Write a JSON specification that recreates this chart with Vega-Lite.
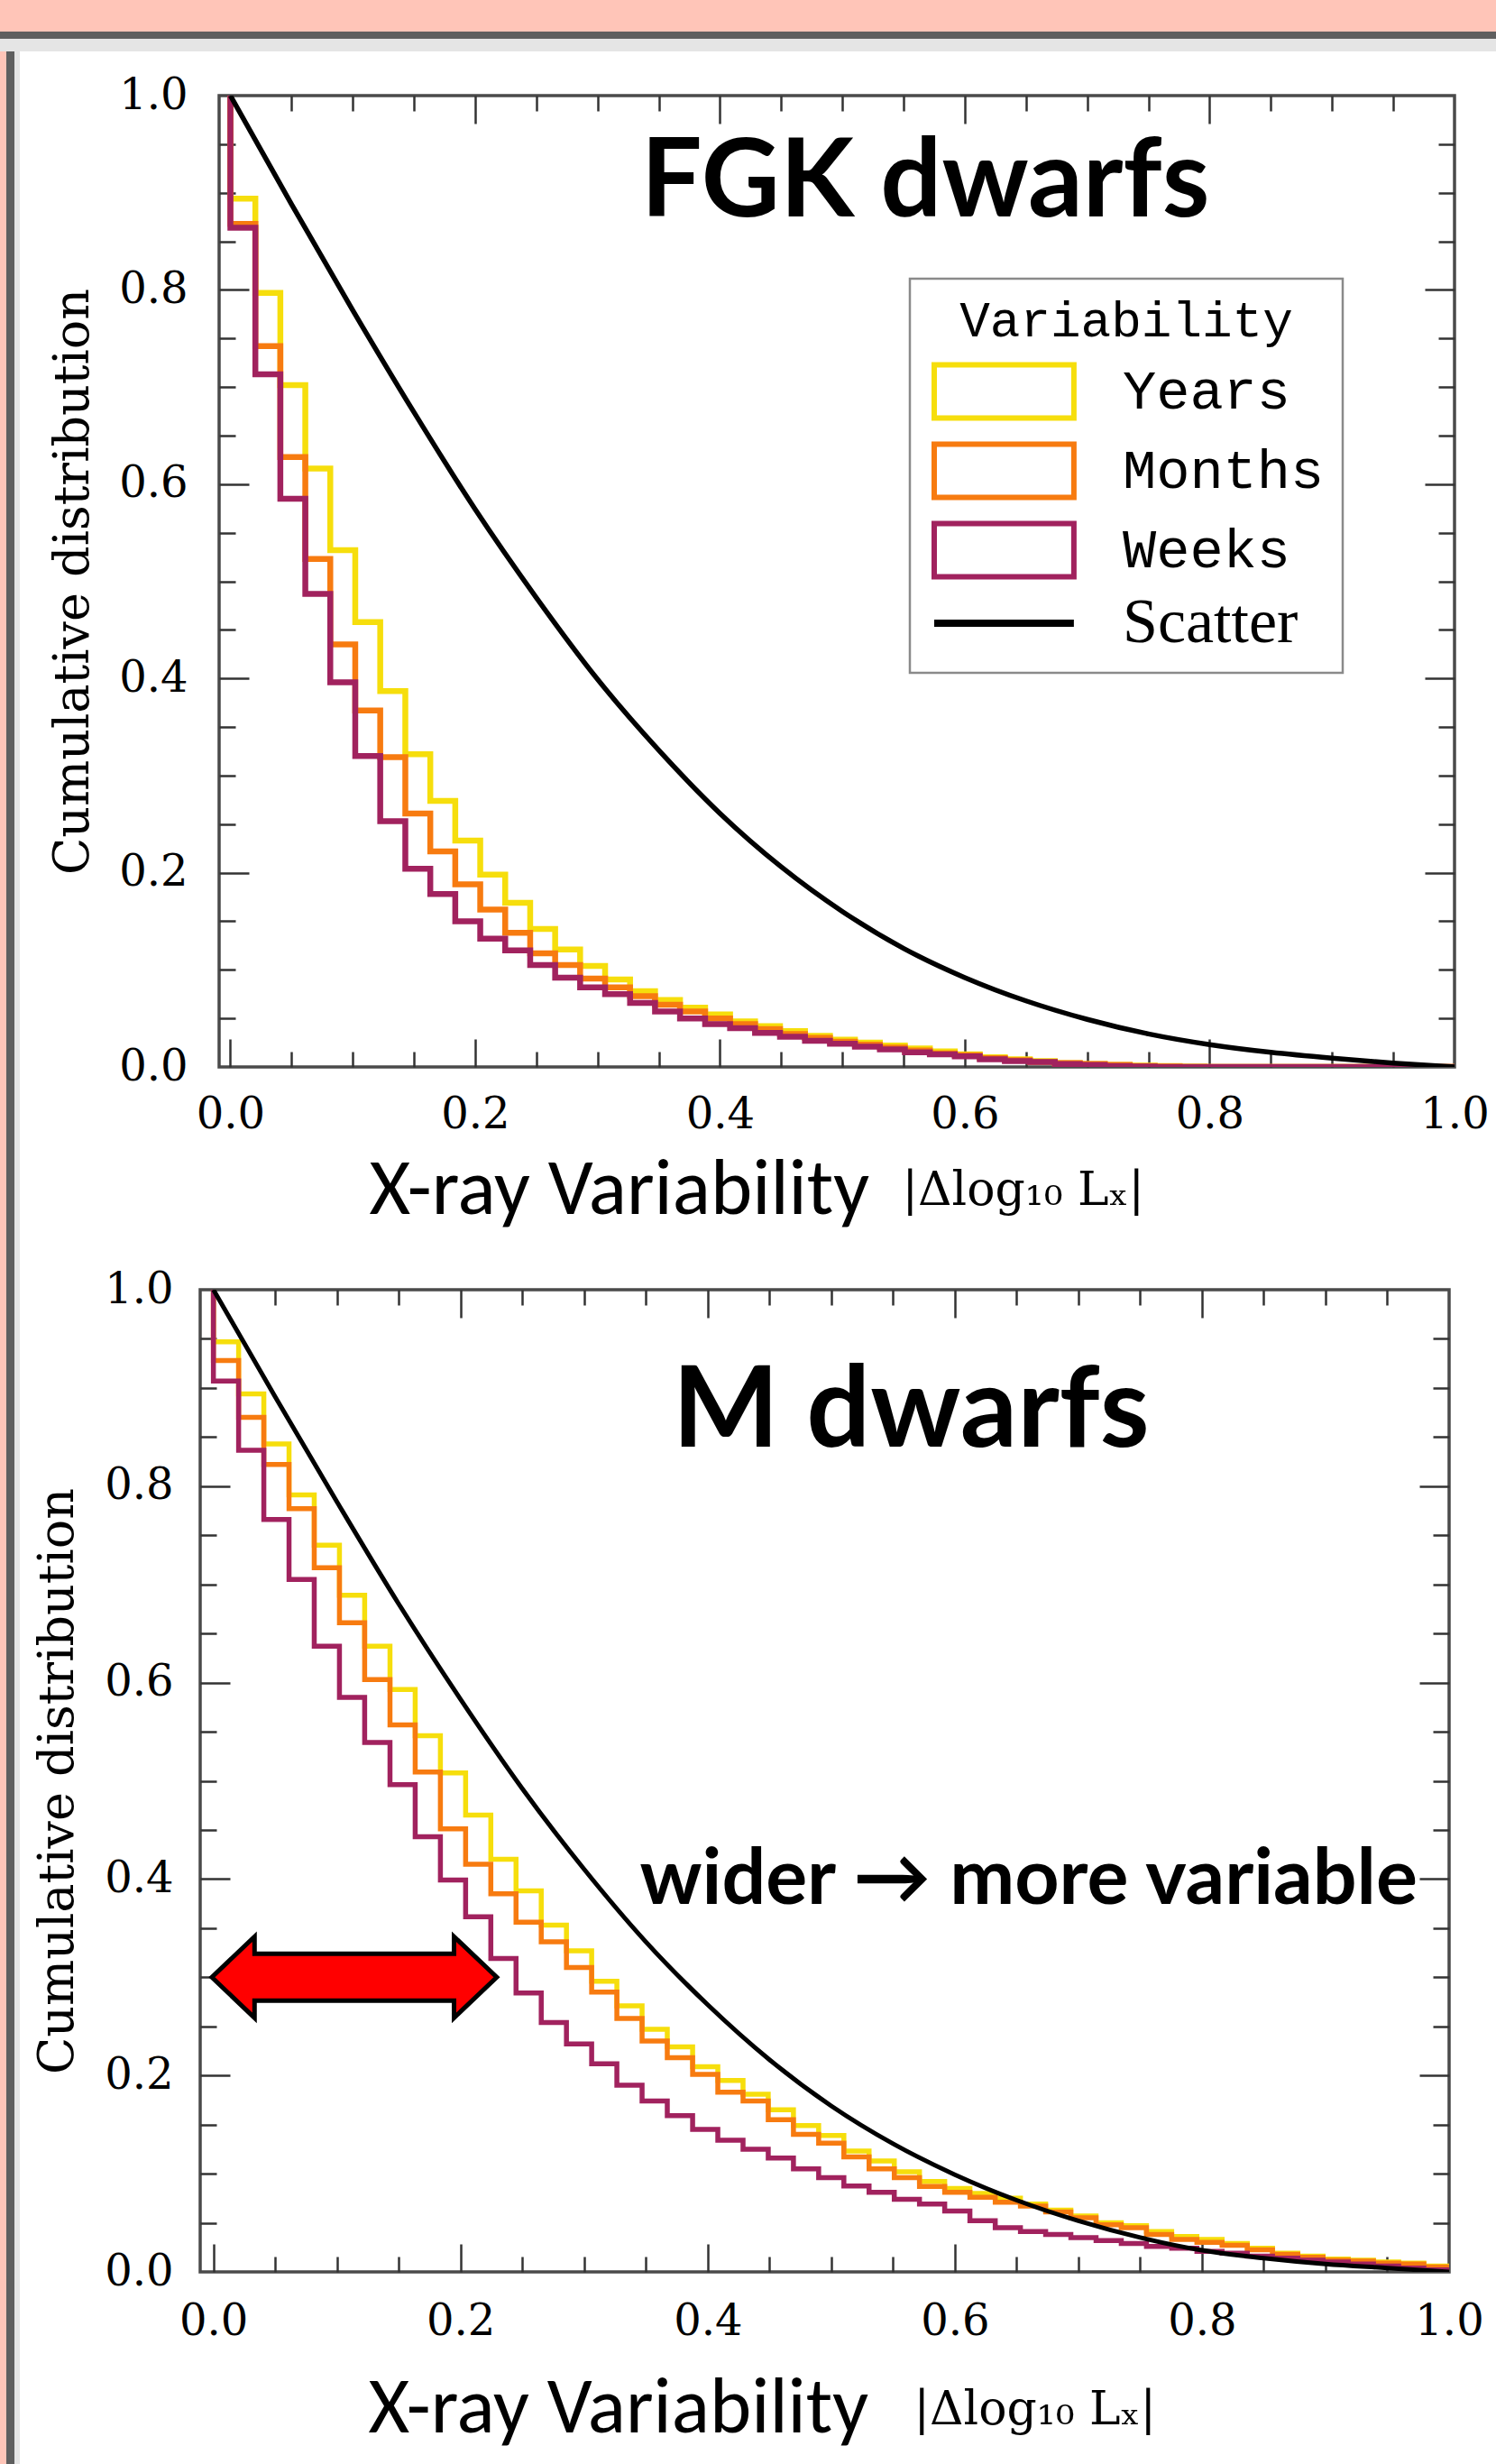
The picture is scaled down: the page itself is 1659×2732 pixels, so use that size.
{
  "$schema": "https://vega.github.io/schema/vega-lite/v6.json",
  "background": "white",
  "padding": 0,
  "autosize": {"type": "pad"},
  "config": {
    "view": {"stroke": null},
    "axis": {"grid": false, "domain": false, "labelFlush": false, "labelOverlap": false, "labelBound": false, "tickColor": "#333333", "tickWidth": 2.5, "titleLimit": 3000, "labelLimit": 500, "labelColor": "#000000", "titleColor": "#000000"}
  },
  "datasets": {
    "fgk": [
      {"i":0,"x":0,"Years":1,"Months":1,"Weeks":1},
      {"i":1,"x":0,"Years":0.894,"Months":0.868,"Weeks":0.864},
      {"i":2,"x":0.0204,"Years":0.797,"Months":0.742,"Weeks":0.713},
      {"i":3,"x":0.0408,"Years":0.702,"Months":0.628,"Weeks":0.585},
      {"i":4,"x":0.0612,"Years":0.616,"Months":0.523,"Weeks":0.487},
      {"i":5,"x":0.0816,"Years":0.532,"Months":0.435,"Weeks":0.396},
      {"i":6,"x":0.102,"Years":0.458,"Months":0.367,"Weeks":0.320},
      {"i":7,"x":0.1224,"Years":0.387,"Months":0.319,"Weeks":0.253},
      {"i":8,"x":0.1429,"Years":0.322,"Months":0.261,"Weeks":0.204},
      {"i":9,"x":0.1633,"Years":0.274,"Months":0.222,"Weeks":0.178},
      {"i":10,"x":0.1837,"Years":0.233,"Months":0.188,"Weeks":0.150},
      {"i":11,"x":0.2041,"Years":0.198,"Months":0.162,"Weeks":0.132},
      {"i":12,"x":0.2245,"Years":0.169,"Months":0.138,"Weeks":0.120},
      {"i":13,"x":0.2449,"Years":0.142,"Months":0.117,"Weeks":0.105},
      {"i":14,"x":0.2653,"Years":0.121,"Months":0.105,"Weeks":0.092},
      {"i":15,"x":0.2857,"Years":0.104,"Months":0.091,"Weeks":0.082},
      {"i":16,"x":0.3061,"Years":0.090,"Months":0.082,"Weeks":0.075},
      {"i":17,"x":0.3265,"Years":0.078,"Months":0.073,"Weeks":0.066},
      {"i":18,"x":0.3469,"Years":0.069,"Months":0.064,"Weeks":0.057},
      {"i":19,"x":0.3673,"Years":0.061,"Months":0.057,"Weeks":0.050},
      {"i":20,"x":0.3878,"Years":0.054,"Months":0.050,"Weeks":0.044},
      {"i":21,"x":0.4082,"Years":0.047,"Months":0.044,"Weeks":0.040},
      {"i":22,"x":0.4286,"Years":0.042,"Months":0.039,"Weeks":0.035},
      {"i":23,"x":0.449,"Years":0.037,"Months":0.034,"Weeks":0.031},
      {"i":24,"x":0.4694,"Years":0.032,"Months":0.030,"Weeks":0.027},
      {"i":25,"x":0.4898,"Years":0.028,"Months":0.026,"Weeks":0.024},
      {"i":26,"x":0.5102,"Years":0.025,"Months":0.023,"Weeks":0.021},
      {"i":27,"x":0.5306,"Years":0.022,"Months":0.020,"Weeks":0.018},
      {"i":28,"x":0.551,"Years":0.019,"Months":0.017,"Weeks":0.015},
      {"i":29,"x":0.5714,"Years":0.016,"Months":0.014,"Weeks":0.013},
      {"i":30,"x":0.5918,"Years":0.013,"Months":0.012,"Weeks":0.011},
      {"i":31,"x":0.6122,"Years":0.010,"Months":0.009,"Weeks":0.008},
      {"i":32,"x":0.6327,"Years":0.008,"Months":0.007,"Weeks":0.006},
      {"i":33,"x":0.6531,"Years":0.006,"Months":0.005,"Weeks":0.005},
      {"i":34,"x":0.6735,"Years":0.004,"Months":0.004,"Weeks":0.003},
      {"i":35,"x":0.6939,"Years":0.003,"Months":0.003,"Weeks":0.002},
      {"i":36,"x":0.7143,"Years":0.002,"Months":0.002,"Weeks":0.001},
      {"i":37,"x":0.7347,"Years":0.0015,"Months":0.001,"Weeks":0.0005},
      {"i":38,"x":0.7551,"Years":0.001,"Months":0.0005,"Weeks":0},
      {"i":39,"x":0.7755,"Years":0.0005,"Months":0,"Weeks":0},
      {"i":40,"x":0.7959,"Years":0,"Months":0,"Weeks":0},
      {"i":50,"x":1,"Years":0,"Months":0,"Weeks":0}
    ],
    "mdw": [
      {"i":0,"x":0,"Years":1,"Months":1,"Weeks":1},
      {"i":1,"x":0,"Years":0.947,"Months":0.928,"Weeks":0.907},
      {"i":2,"x":0.0204,"Years":0.894,"Months":0.870,"Weeks":0.8365},
      {"i":3,"x":0.0408,"Years":0.843,"Months":0.822,"Weeks":0.766},
      {"i":4,"x":0.0612,"Years":0.791,"Months":0.777,"Weeks":0.705},
      {"i":5,"x":0.0816,"Years":0.740,"Months":0.717,"Weeks":0.637},
      {"i":6,"x":0.102,"Years":0.689,"Months":0.661,"Weeks":0.585},
      {"i":7,"x":0.1224,"Years":0.637,"Months":0.603,"Weeks":0.539},
      {"i":8,"x":0.1429,"Years":0.593,"Months":0.557,"Weeks":0.496},
      {"i":9,"x":0.1633,"Years":0.546,"Months":0.509,"Weeks":0.443},
      {"i":10,"x":0.1837,"Years":0.508,"Months":0.451,"Weeks":0.399},
      {"i":11,"x":0.2041,"Years":0.465,"Months":0.415,"Weeks":0.3615},
      {"i":12,"x":0.2245,"Years":0.420,"Months":0.385,"Weeks":0.319},
      {"i":13,"x":0.2449,"Years":0.388,"Months":0.356,"Weeks":0.284},
      {"i":14,"x":0.2653,"Years":0.353,"Months":0.336,"Weeks":0.254},
      {"i":15,"x":0.2857,"Years":0.327,"Months":0.310,"Weeks":0.232},
      {"i":16,"x":0.3061,"Years":0.296,"Months":0.285,"Weeks":0.212},
      {"i":17,"x":0.3265,"Years":0.271,"Months":0.258,"Weeks":0.190},
      {"i":18,"x":0.3469,"Years":0.247,"Months":0.235,"Weeks":0.174},
      {"i":19,"x":0.3673,"Years":0.229,"Months":0.218,"Weeks":0.159},
      {"i":20,"x":0.3878,"Years":0.209,"Months":0.201,"Weeks":0.145},
      {"i":21,"x":0.4082,"Years":0.195,"Months":0.183,"Weeks":0.134},
      {"i":22,"x":0.4286,"Years":0.181,"Months":0.174,"Weeks":0.125},
      {"i":23,"x":0.449,"Years":0.165,"Months":0.155,"Weeks":0.116},
      {"i":24,"x":0.4694,"Years":0.149,"Months":0.140,"Weeks":0.105},
      {"i":25,"x":0.4898,"Years":0.139,"Months":0.131,"Weeks":0.096},
      {"i":26,"x":0.5102,"Years":0.123,"Months":0.117,"Weeks":0.0875},
      {"i":27,"x":0.5306,"Years":0.113,"Months":0.105,"Weeks":0.081},
      {"i":28,"x":0.551,"Years":0.102,"Months":0.096,"Weeks":0.074},
      {"i":29,"x":0.5714,"Years":0.092,"Months":0.087,"Weeks":0.069},
      {"i":30,"x":0.5918,"Years":0.085,"Months":0.081,"Weeks":0.062},
      {"i":31,"x":0.6122,"Years":0.080,"Months":0.076,"Weeks":0.052},
      {"i":32,"x":0.6327,"Years":0.075,"Months":0.071,"Weeks":0.045},
      {"i":33,"x":0.6531,"Years":0.069,"Months":0.067,"Weeks":0.041},
      {"i":34,"x":0.6735,"Years":0.063,"Months":0.061,"Weeks":0.038},
      {"i":35,"x":0.6939,"Years":0.057,"Months":0.055,"Weeks":0.035},
      {"i":36,"x":0.7143,"Years":0.050,"Months":0.048,"Weeks":0.032},
      {"i":37,"x":0.7347,"Years":0.047,"Months":0.045,"Weeks":0.029},
      {"i":38,"x":0.7551,"Years":0.041,"Months":0.038,"Weeks":0.026},
      {"i":39,"x":0.7755,"Years":0.036,"Months":0.033,"Weeks":0.024},
      {"i":40,"x":0.7959,"Years":0.033,"Months":0.030,"Weeks":0.021},
      {"i":41,"x":0.8163,"Years":0.029,"Months":0.027,"Weeks":0.019},
      {"i":42,"x":0.8367,"Years":0.024,"Months":0.0225,"Weeks":0.016},
      {"i":43,"x":0.8571,"Years":0.019,"Months":0.018,"Weeks":0.014},
      {"i":44,"x":0.8776,"Years":0.016,"Months":0.015,"Weeks":0.012},
      {"i":45,"x":0.898,"Years":0.013,"Months":0.012,"Weeks":0.010},
      {"i":46,"x":0.9184,"Years":0.012,"Months":0.011,"Weeks":0.008},
      {"i":47,"x":0.9388,"Years":0.010,"Months":0.009,"Weeks":0.006},
      {"i":48,"x":0.9592,"Years":0.009,"Months":0.008,"Weeks":0.004},
      {"i":49,"x":0.9796,"Years":0.006,"Months":0.005,"Weeks":0.002},
      {"i":50,"x":1,"Years":0.006,"Months":0.005,"Weeks":0.002}
    ],
    "fgkScatter": [
      {"series":"Scatter","x":0,"v":1},{"series":"Scatter","x":0.05,"v":0.888},{"series":"Scatter","x":0.1,"v":0.779},
      {"series":"Scatter","x":0.15,"v":0.674},{"series":"Scatter","x":0.2,"v":0.574},{"series":"Scatter","x":0.25,"v":0.483},
      {"series":"Scatter","x":0.3,"v":0.399},{"series":"Scatter","x":0.35,"v":0.326},{"series":"Scatter","x":0.4,"v":0.261},
      {"series":"Scatter","x":0.45,"v":0.206},{"series":"Scatter","x":0.5,"v":0.160},{"series":"Scatter","x":0.55,"v":0.122},
      {"series":"Scatter","x":0.6,"v":0.092},{"series":"Scatter","x":0.65,"v":0.068},{"series":"Scatter","x":0.7,"v":0.049},
      {"series":"Scatter","x":0.75,"v":0.034},{"series":"Scatter","x":0.8,"v":0.023},{"series":"Scatter","x":0.85,"v":0.015},
      {"series":"Scatter","x":0.9,"v":0.009},{"series":"Scatter","x":0.95,"v":0.004},{"series":"Scatter","x":1,"v":0}
    ],
    "mScatter": [
      {"series":"Scatter","x":0,"v":1},{"series":"Scatter","x":0.05,"v":0.891},{"series":"Scatter","x":0.1,"v":0.784},
      {"series":"Scatter","x":0.15,"v":0.680},{"series":"Scatter","x":0.2,"v":0.583},{"series":"Scatter","x":0.25,"v":0.492},
      {"series":"Scatter","x":0.3,"v":0.410},{"series":"Scatter","x":0.35,"v":0.336},{"series":"Scatter","x":0.4,"v":0.272},
      {"series":"Scatter","x":0.45,"v":0.216},{"series":"Scatter","x":0.5,"v":0.169},{"series":"Scatter","x":0.55,"v":0.1305},
      {"series":"Scatter","x":0.6,"v":0.099},{"series":"Scatter","x":0.65,"v":0.073},{"series":"Scatter","x":0.7,"v":0.052},
      {"series":"Scatter","x":0.75,"v":0.035},{"series":"Scatter","x":0.8,"v":0.022},{"series":"Scatter","x":0.85,"v":0.014},
      {"series":"Scatter","x":0.9,"v":0.008},{"series":"Scatter","x":0.95,"v":0.004},{"series":"Scatter","x":1,"v":0}
    ]
  },
  "spacing": 0,
  "vconcat": [
    {"width": 1659, "height": 35, "data": {"values": [{}]}, "mark": {"type": "point", "size": 0, "strokeWidth": 0, "opacity": 0}, "view": {"fill": "#FFC5B8", "stroke": null}},
    {"width": 1659, "height": 8, "data": {"values": [{}]}, "mark": {"type": "point", "size": 0, "strokeWidth": 0, "opacity": 0}, "view": {"fill": "#5F5F5F", "stroke": null}},
    {"width": 1659, "height": 14, "data": {"values": [{}]}, "mark": {"type": "point", "size": 0, "strokeWidth": 0, "opacity": 0}, "view": {"fill": "#E5E5E5", "stroke": null}},
    {
      "spacing": 0,
      "hconcat": [
        {"width": 7, "height": 2675, "data": {"values": [{}]}, "mark": {"type": "point", "size": 0, "strokeWidth": 0, "opacity": 0}, "view": {"fill": "#FFC5B8", "stroke": null}},
        {"width": 9, "height": 2675, "data": {"values": [{}]}, "mark": {"type": "point", "size": 0, "strokeWidth": 0, "opacity": 0}, "view": {"fill": "#5F5F5F", "stroke": null}},
        {"width": 6, "height": 2675, "data": {"values": [{}]}, "mark": {"type": "point", "size": 0, "strokeWidth": 0, "opacity": 0}, "view": {"fill": "#E5E5E5", "stroke": null}},
        {"width": 7, "height": 10, "data": {"values": [{}]}, "mark": {"type": "point", "size": 0, "strokeWidth": 0, "opacity": 0}, "view": {"stroke": null}},
        {
          "spacing": 3,
          "columns": 1,
          "align": "none",
          "resolve": {"scale": {"x": "independent", "y": "independent", "color": "independent"}},
          "concat": [
            {"width": 1, "height": 1, "data": {"values": [{}]}, "mark": {"type": "point", "size": 0, "strokeWidth": 0, "opacity": 0}, "view": {"stroke": null}},
            {
              "spacing": 0,
              "resolve": {"scale": {"x": "independent", "y": "independent", "color": "independent"}},
              "hconcat": [
                {"width": 1, "height": 1, "data": {"values": [{}]}, "mark": {"type": "point", "size": 0, "strokeWidth": 0, "opacity": 0}, "view": {"stroke": null}},
                {
                  "width": 1370, "height": 1077,
                  "view": {"stroke": "#4a4a4a", "strokeWidth": 3.5, "fill": "white"},
                  "resolve": {"axis": {"x": "independent", "y": "independent"}},
                  "layer": [
                    {
                      "data": {"name": "fgk"},
                      "transform": [{"fold": ["Years"], "as": ["series", "v"]}],
                      "mark": {"type": "line", "interpolate": "step-after", "strokeWidth": 6.5, "clip": true},
                      "encoding": {
                        "x": {"field": "x", "type": "quantitative", "scale": {"domain": [-0.0092, 1], "nice": false, "zero": false},
                          "axis": {"orient": "bottom", "values": [0, 0.2, 0.4, 0.6, 0.8, 1], "format": ".1f", "ticks": false, "tickSize": 0, "labelFont": "DejaVu Serif", "labelFontSize": 48, "labelPadding": 29, "title": "X-ray Variability", "titleFont": "Carlito, Lato", "titleFontSize": 88, "titleFontWeight": "normal", "titleAlign": "left", "titleBaseline": "alphabetic", "titleX": 166, "titleY": 162}},
                        "y": {"field": "v", "type": "quantitative", "scale": {"domain": [0, 1], "nice": false, "zero": false},
                          "axis": {"orient": "left", "values": [0, 0.2, 0.4, 0.6, 0.8, 1], "format": ".1f", "ticks": false, "tickSize": 0, "labelFont": "DejaVu Serif", "labelFontSize": 48, "labelPadding": 35, "title": "Cumulative distribution", "titleFont": "DejaVu Serif", "titleFontSize": 54, "titleFontWeight": "normal", "titlePadding": 23}},
                        "color": {"field": "series", "type": "nominal",
                          "scale": {"domain": ["Years", "Months", "Weeks", "Scatter"], "range": ["#F6DE0C", "#F77B10", "#A1225E", "#000000"]},
                          "legend": {
                            "orient": "none", "legendX": 766, "legendY": 203,
                            "title": "Variability", "titleFont": "Liberation Mono", "titleFontSize": 56, "titleFontWeight": "normal", "titleColor": "#000000", "titleAnchor": "middle", "titleAlign": "center", "titlePadding": 18, "titleLimit": 800,
                            "labelFont": "Liberation Mono", "labelFontSize": 62, "labelColor": "#000000", "labelOffset": 154, "labelLimit": 600,
                            "symbolType": "M-0.75,-0.92H4.09V0.92H-0.75Z", "symbolSize": 4096, "symbolStrokeWidth": 6,
                            "rowPadding": 4, "padding": 20, "strokeColor": "#8a8a8a", "fillColor": "#ffffff",
                            "encode": {
                              "symbols": {"update": {
                                "shape": {"signal": "datum.value === 'Scatter' ? 'M-0.75,0H4.09' : 'M-0.75,-0.92H4.09V0.92H-0.75Z'"},
                                "fill": {"value": "transparent"},
                                "strokeWidth": {"signal": "datum.value === 'Scatter' ? 8 : 6"}}},
                              "labels": {"update": {
                                "font": {"signal": "datum.value === 'Scatter' ? 'Liberation Serif' : 'Liberation Mono'"},
                                "fontSize": {"signal": "datum.value === 'Scatter' ? 70 : 62"}}},
                              "legend": {"update": {"strokeWidth": {"value": 2.5}}}
                            }
                          }},
                        "order": {"field": "i", "type": "quantitative"}
                      }
                    },
                    {
                      "data": {"name": "fgk"},
                      "transform": [{"fold": ["Months"], "as": ["series", "v"]}],
                      "mark": {"type": "line", "interpolate": "step-after", "strokeWidth": 6.5, "clip": true},
                      "encoding": {
                        "x": {"field": "x", "type": "quantitative", "scale": {"domain": [-0.0092, 1], "nice": false, "zero": false},
                          "axis": {"orient": "bottom", "values": [0, 0.2, 0.4, 0.6, 0.8], "labels": false, "tickSize": 31, "offset": -31, "title": ".", "titleColor": "#ffffff", "titleFontSize": 12, "titleAlign": "left", "titleBaseline": "bottom", "titleX": 0, "titleY": 231}},
                        "y": {"field": "v", "type": "quantitative", "scale": {"domain": [0, 1], "nice": false, "zero": false},
                          "axis": {"orient": "left", "values": [0.2, 0.4, 0.6, 0.8], "labels": false, "tickSize": 33, "offset": -33, "title": null}},
                        "color": {"field": "series", "type": "nominal", "scale": {"domain": ["Years", "Months", "Weeks", "Scatter"], "range": ["#F6DE0C", "#F77B10", "#A1225E", "#000000"]}},
                        "order": {"field": "i", "type": "quantitative"}
                      }
                    },
                    {
                      "data": {"name": "fgk"},
                      "transform": [{"fold": ["Weeks"], "as": ["series", "v"]}],
                      "mark": {"type": "line", "interpolate": "step-after", "strokeWidth": 6.5, "clip": true},
                      "encoding": {
                        "x": {"field": "x", "type": "quantitative", "scale": {"domain": [-0.0092, 1], "nice": false, "zero": false},
                          "axis": {"orient": "bottom", "values": [0.05, 0.1, 0.15, 0.25, 0.3, 0.35, 0.45, 0.5, 0.55, 0.65, 0.7, 0.75, 0.85, 0.9, 0.95], "labels": false, "tickSize": 17, "offset": -17, "title": "|Δlog₁₀ Lₓ|", "titleFont": "DejaVu Serif", "titleFontSize": 52, "titleFontWeight": "normal", "titleAlign": "left", "titleBaseline": "alphabetic", "titleX": 757, "titleY": 169}},
                        "y": {"field": "v", "type": "quantitative", "scale": {"domain": [0, 1], "nice": false, "zero": false},
                          "axis": {"orient": "left", "values": [0.05, 0.1, 0.15, 0.25, 0.3, 0.35, 0.45, 0.5, 0.55, 0.65, 0.7, 0.75, 0.85, 0.9, 0.95], "labels": false, "tickSize": 18, "offset": -18, "title": ".", "titleColor": "#ffffff", "titleFontSize": 12, "titleAngle": 0, "titleAlign": "left", "titleBaseline": "middle", "titleX": -229, "titleY": 500}},
                        "color": {"field": "series", "type": "nominal", "scale": {"domain": ["Years", "Months", "Weeks", "Scatter"], "range": ["#F6DE0C", "#F77B10", "#A1225E", "#000000"]}},
                        "order": {"field": "i", "type": "quantitative"}
                      }
                    },
                    {
                      "data": {"name": "fgkScatter"},
                      "mark": {"type": "line", "interpolate": "monotone", "strokeWidth": 5.5, "clip": true},
                      "encoding": {
                        "x": {"field": "x", "type": "quantitative", "scale": {"domain": [-0.0092, 1], "nice": false, "zero": false},
                          "axis": {"orient": "top", "values": [0.2, 0.4, 0.6, 0.8], "labels": false, "tickSize": 31, "offset": -31, "title": ".", "titleColor": "#ffffff", "titleFontSize": 12, "titleAlign": "left", "titleBaseline": "top", "titleX": 0, "titleY": -73}},
                        "y": {"field": "v", "type": "quantitative", "scale": {"domain": [0, 1], "nice": false, "zero": false},
                          "axis": {"orient": "right", "values": [0.2, 0.4, 0.6, 0.8], "labels": false, "tickSize": 33, "offset": -33, "title": null}},
                        "color": {"field": "series", "type": "nominal", "scale": {"domain": ["Years", "Months", "Weeks", "Scatter"], "range": ["#F6DE0C", "#F77B10", "#A1225E", "#000000"]}}
                      }
                    },
                    {
                      "data": {"values": [{"x": 0.5676, "y": 0.876, "label": "FGK dwarfs"}]},
                      "mark": {"type": "text", "font": "Lato", "fontWeight": "bold", "fontSize": 120, "align": "center", "baseline": "alphabetic", "color": "#000000"},
                      "encoding": {
                        "x": {"field": "x", "type": "quantitative", "scale": {"domain": [-0.0092, 1], "nice": false, "zero": false},
                          "axis": {"orient": "top", "values": [0.05, 0.1, 0.15, 0.25, 0.3, 0.35, 0.45, 0.5, 0.55, 0.65, 0.7, 0.75, 0.85, 0.9, 0.95], "labels": false, "tickSize": 17, "offset": -17, "title": null}},
                        "y": {"field": "y", "type": "quantitative", "scale": {"domain": [0, 1], "nice": false, "zero": false},
                          "axis": {"orient": "right", "values": [0.05, 0.1, 0.15, 0.25, 0.3, 0.35, 0.45, 0.5, 0.55, 0.65, 0.7, 0.75, 0.85, 0.9, 0.95], "labels": false, "tickSize": 18, "offset": -18, "title": null}},
                        "text": {"field": "label"}
                      }
                    }
                  ]
                }
              ]
            },
            {
              "spacing": 0,
              "resolve": {"scale": {"x": "independent", "y": "independent", "color": "independent"}},
              "hconcat": [
                {"width": 1, "height": 1, "data": {"values": [{}]}, "mark": {"type": "point", "size": 0, "strokeWidth": 0, "opacity": 0}, "view": {"stroke": null}},
                {
                  "width": 1385, "height": 1089,
                  "view": {"stroke": "#4a4a4a", "strokeWidth": 3.5, "fill": "white"},
                  "resolve": {"axis": {"x": "independent", "y": "independent"}},
                  "layer": [
                    {
                      "data": {"name": "mdw"},
                      "transform": [{"fold": ["Years"], "as": ["series", "v"]}],
                      "mark": {"type": "line", "interpolate": "step-after", "strokeWidth": 5.5, "clip": true},
                      "encoding": {
                        "x": {"field": "x", "type": "quantitative", "scale": {"domain": [-0.0107, 1], "nice": false, "zero": false},
                          "axis": {"orient": "bottom", "values": [0, 0.2, 0.4, 0.6, 0.8, 1], "format": ".1f", "ticks": false, "tickSize": 0, "labelFont": "DejaVu Serif", "labelFontSize": 48, "labelPadding": 31, "title": "X-ray Variability", "titleFont": "Carlito, Lato", "titleFontSize": 88, "titleFontWeight": "normal", "titleAlign": "left", "titleBaseline": "alphabetic", "titleX": 186, "titleY": 177}},
                        "y": {"field": "v", "type": "quantitative", "scale": {"domain": [0, 1], "nice": false, "zero": false},
                          "axis": {"orient": "left", "values": [0, 0.2, 0.4, 0.6, 0.8, 1], "format": ".1f", "ticks": false, "tickSize": 0, "labelFont": "DejaVu Serif", "labelFontSize": 48, "labelPadding": 30, "title": "Cumulative distribution", "titleFont": "DejaVu Serif", "titleFontSize": 54, "titleFontWeight": "normal", "titlePadding": 24}},
                        "color": {"field": "series", "type": "nominal", "scale": {"domain": ["Years", "Months", "Weeks", "Scatter"], "range": ["#F6DE0C", "#F77B10", "#A1225E", "#000000"]}, "legend": null},
                        "order": {"field": "i", "type": "quantitative"}
                      }
                    },
                    {
                      "data": {"name": "mdw"},
                      "transform": [{"fold": ["Months"], "as": ["series", "v"]}],
                      "mark": {"type": "line", "interpolate": "step-after", "strokeWidth": 5.5, "clip": true},
                      "encoding": {
                        "x": {"field": "x", "type": "quantitative", "scale": {"domain": [-0.0107, 1], "nice": false, "zero": false},
                          "axis": {"orient": "bottom", "values": [0, 0.2, 0.4, 0.6, 0.8], "labels": false, "tickSize": 31, "offset": -31, "title": null}},
                        "y": {"field": "v", "type": "quantitative", "scale": {"domain": [0, 1], "nice": false, "zero": false},
                          "axis": {"orient": "left", "values": [0.2, 0.4, 0.6, 0.8], "labels": false, "tickSize": 33, "offset": -33, "title": null}},
                        "color": {"field": "series", "type": "nominal", "scale": {"domain": ["Years", "Months", "Weeks", "Scatter"], "range": ["#F6DE0C", "#F77B10", "#A1225E", "#000000"]}, "legend": null},
                        "order": {"field": "i", "type": "quantitative"}
                      }
                    },
                    {
                      "data": {"name": "mdw"},
                      "transform": [{"fold": ["Weeks"], "as": ["series", "v"]}],
                      "mark": {"type": "line", "interpolate": "step-after", "strokeWidth": 5.5, "clip": true},
                      "encoding": {
                        "x": {"field": "x", "type": "quantitative", "scale": {"domain": [-0.0107, 1], "nice": false, "zero": false},
                          "axis": {"orient": "bottom", "values": [0.05, 0.1, 0.15, 0.25, 0.3, 0.35, 0.45, 0.5, 0.55, 0.65, 0.7, 0.75, 0.85, 0.9, 0.95], "labels": false, "tickSize": 17, "offset": -17, "title": "|Δlog₁₀ Lₓ|", "titleFont": "DejaVu Serif", "titleFontSize": 52, "titleFontWeight": "normal", "titleAlign": "left", "titleBaseline": "alphabetic", "titleX": 791, "titleY": 185}},
                        "y": {"field": "v", "type": "quantitative", "scale": {"domain": [0, 1], "nice": false, "zero": false},
                          "axis": {"orient": "left", "values": [0.05, 0.1, 0.15, 0.25, 0.3, 0.35, 0.45, 0.5, 0.55, 0.65, 0.7, 0.75, 0.85, 0.9, 0.95], "labels": false, "tickSize": 18, "offset": -18, "title": ".", "titleColor": "#ffffff", "titleFontSize": 12, "titleAngle": 0, "titleAlign": "left", "titleBaseline": "middle", "titleX": -208, "titleY": 500}},
                        "color": {"field": "series", "type": "nominal", "scale": {"domain": ["Years", "Months", "Weeks", "Scatter"], "range": ["#F6DE0C", "#F77B10", "#A1225E", "#000000"]}, "legend": null},
                        "order": {"field": "i", "type": "quantitative"}
                      }
                    },
                    {
                      "data": {"name": "mScatter"},
                      "mark": {"type": "line", "interpolate": "monotone", "strokeWidth": 5, "clip": true},
                      "encoding": {
                        "x": {"field": "x", "type": "quantitative", "scale": {"domain": [-0.0107, 1], "nice": false, "zero": false},
                          "axis": {"orient": "top", "values": [0.2, 0.4, 0.6, 0.8], "labels": false, "tickSize": 31, "offset": -31, "title": ".", "titleColor": "#ffffff", "titleFontSize": 12, "titleAlign": "left", "titleBaseline": "top", "titleX": 0, "titleY": -71}},
                        "y": {"field": "v", "type": "quantitative", "scale": {"domain": [0, 1], "nice": false, "zero": false},
                          "axis": {"orient": "right", "values": [0.2, 0.4, 0.6, 0.8], "labels": false, "tickSize": 33, "offset": -33, "title": null}},
                        "color": {"field": "series", "type": "nominal", "scale": {"domain": ["Years", "Months", "Weeks", "Scatter"], "range": ["#F6DE0C", "#F77B10", "#A1225E", "#000000"]}, "legend": null}
                      }
                    },
                    {
                      "data": {"values": [{"x": 0.114, "y": 0.3}]},
                      "mark": {"type": "point", "shape": "M-1,0L-0.7,-0.285L-0.7,-0.165L0.7,-0.165L0.7,-0.285L1,0L0.7,0.285L0.7,0.165L-0.7,0.165L-0.7,0.285Z", "size": 99856, "filled": true, "fill": "#FF0000", "stroke": "#000000", "strokeWidth": 5, "opacity": 1},
                      "encoding": {
                        "x": {"field": "x", "type": "quantitative", "scale": {"domain": [-0.0107, 1], "nice": false, "zero": false},
                          "axis": {"orient": "top", "values": [0.05, 0.1, 0.15, 0.25, 0.3, 0.35, 0.45, 0.5, 0.55, 0.65, 0.7, 0.75, 0.85, 0.9, 0.95], "labels": false, "tickSize": 17, "offset": -17, "title": null}},
                        "y": {"field": "y", "type": "quantitative", "scale": {"domain": [0, 1], "nice": false, "zero": false},
                          "axis": {"orient": "right", "values": [0.05, 0.1, 0.15, 0.25, 0.3, 0.35, 0.45, 0.5, 0.55, 0.65, 0.7, 0.75, 0.85, 0.9, 0.95], "labels": false, "tickSize": 18, "offset": -18, "title": null}}
                      }
                    },
                    {
                      "data": {"values": [{"x": 0.5645, "y": 0.84, "label": "M dwarfs"}]},
                      "mark": {"type": "text", "font": "Lato", "fontWeight": "bold", "fontSize": 125, "align": "center", "baseline": "alphabetic", "color": "#000000"},
                      "encoding": {
                        "x": {"field": "x", "type": "quantitative", "scale": {"domain": [-0.0107, 1], "nice": false, "zero": false}, "axis": null},
                        "y": {"field": "y", "type": "quantitative", "scale": {"domain": [0, 1], "nice": false, "zero": false}, "axis": null},
                        "text": {"field": "label"}
                      }
                    },
                    {
                      "data": {"values": [{"x": 0.6597, "y": 0.3747, "label": "wider → more variable"}]},
                      "mark": {"type": "text", "font": "Lato", "fontWeight": "bold", "fontSize": 86, "align": "center", "baseline": "alphabetic", "color": "#000000"},
                      "encoding": {
                        "x": {"field": "x", "type": "quantitative", "scale": {"domain": [-0.0107, 1], "nice": false, "zero": false}, "axis": null},
                        "y": {"field": "y", "type": "quantitative", "scale": {"domain": [0, 1], "nice": false, "zero": false}, "axis": null},
                        "text": {"field": "label"}
                      }
                    }
                  ]
                }
              ]
            }
          ]
        }
      ]
    }
  ]
}
